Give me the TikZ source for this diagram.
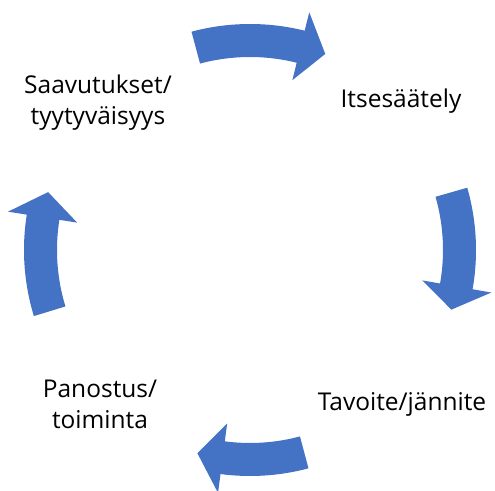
\documentclass[tikz,border=0pt]{standalone}
\usepackage{fontspec}
\setmainfont{Open Sans}
\definecolor{cycleblue}{HTML}{4472C4}
\begin{document}
\begin{tikzpicture}[x=1pt,y=1pt,
        lbl/.style={anchor=center,inner sep=0pt,align=center,font=\fontsize{24.5}{31}\selectfont},
        blk/.style={fill=cycleblue,draw=none}]
        \useasboundingbox (-250,250) rectangle (245,-240);

        \node[lbl] (itse) at (151,149) {Itsesäätely};
        \node[lbl] (tavo) at (152,-154) {Tavoite/jännite};
        \node[lbl] (pano) at (-150,-154) {Panostus/\\toiminta};
        \node[lbl] (saav) at (-152,147) {Saavutukset/\\tyytyväisyys};

        % top arrow
        \fill[blk] (105:193) arc[start angle=105,end angle=76,radius=193]
            -- (76:175) -- (69:210) -- (76:245) -- (76:226)
            arc[start angle=76,end angle=105,radius=226] -- cycle;

        % right arrow
        \fill[blk] (16:193) arc[start angle=16,end angle=-10,radius=193]
            -- (-10:175) -- (-16.5:210) -- (-10:245) -- (-10:226)
            arc[start angle=-10,end angle=16,radius=226] -- cycle;

        % bottom arrow
        \fill[blk] (-75:193) arc[start angle=-75,end angle=-97.5,radius=193]
            -- (-97.5:175) -- (-104.5:210) -- (-97.5:245) -- (-97.5:226)
            arc[start angle=-97.5,end angle=-75,radius=226] -- cycle;

        % left arrow
        \fill[blk] (-163:193) arc[start angle=-163,end angle=-189,radius=193]
            -- (-189:175) -- (-196:210) -- (-189:245) -- (-189:226)
            arc[start angle=-189,end angle=-163,radius=226] -- cycle;

    \end{tikzpicture}
\end{document}
